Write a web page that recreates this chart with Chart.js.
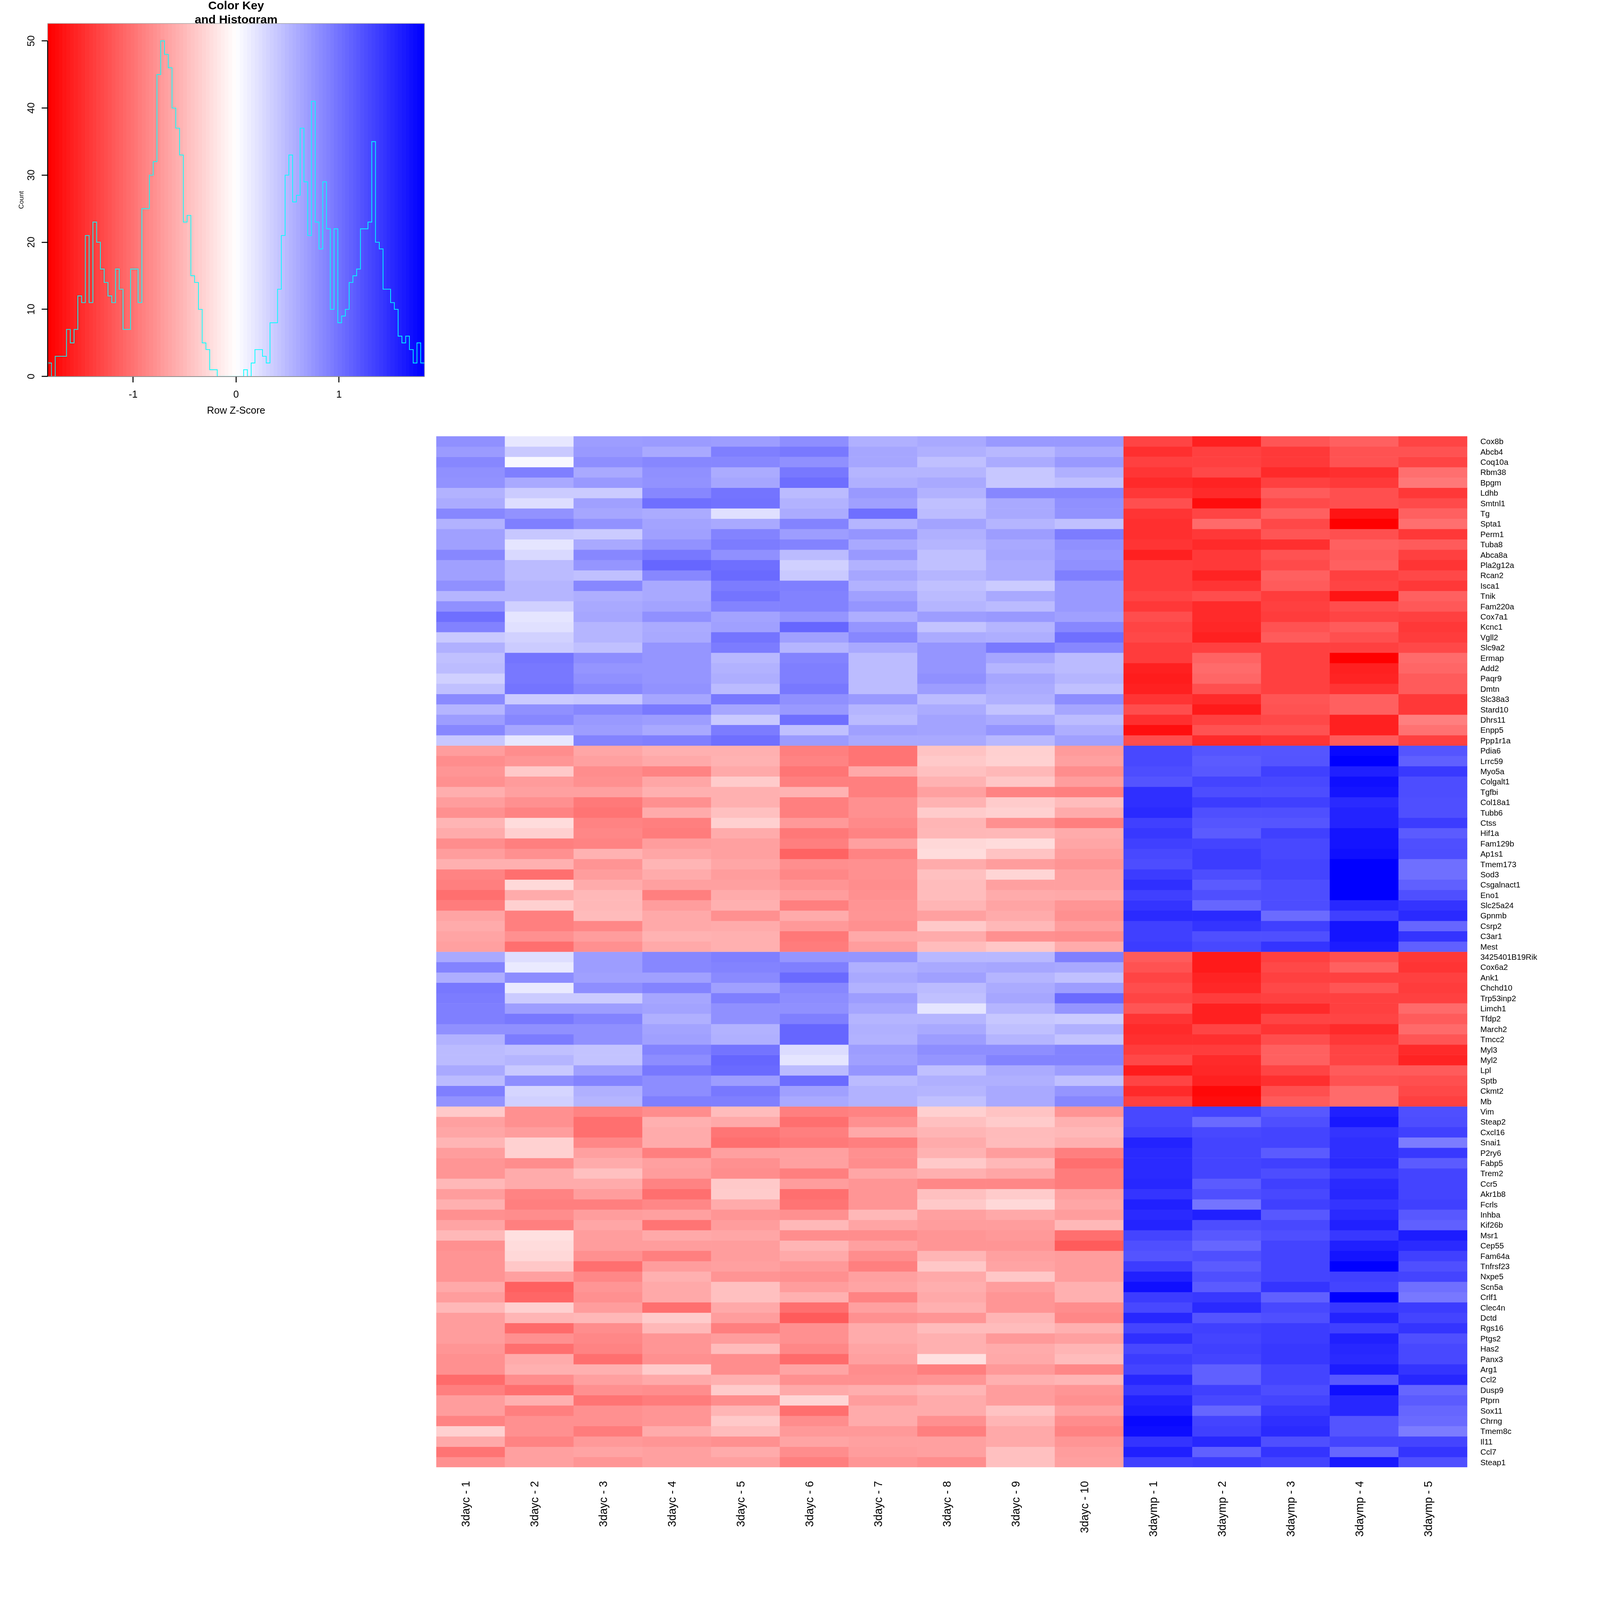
<!DOCTYPE html>
<html>
<head>
<meta charset="utf-8">
<title>Color Key and Heatmap</title>
<script src="https://cdn.jsdelivr.net/npm/chart.js@4"></script>
<style>
  html, body { margin: 0; padding: 0; background: #fff; }
  canvas { position: absolute; display: block; }
</style>
</head>
<body>
<canvas id="key-chart"></canvas>
<canvas id="heat-chart"></canvas>
<script>
const zMin = -1.83;
const zMax = 1.83;

const histCounts = [
  2, 0, 3, 3, 3, 7, 5, 7, 12, 11,
  21, 11, 23, 20, 16, 14, 12, 11, 16, 13,
  7, 7, 16, 16, 11, 25, 25, 30, 32, 45,
  50, 48, 46, 40, 37, 33, 23, 24, 15, 14,
  10, 5, 4, 1, 1, 0, 0, 0, 0, 0,
  0, 0, 1, 0, 2, 4, 4, 3, 2, 8,
  8, 13, 21, 30, 33, 26, 27, 37, 29, 21,
  41, 23, 19, 29, 22, 10, 22, 8, 9, 10,
  14, 15, 16, 22, 22, 23, 35, 20, 19, 13,
  13, 11, 10, 6, 5, 6, 4, 2, 5, 2
];
const countTicks = [0, 10, 20, 30, 40, 50];
const countTop = 52.6;
const zTicks = [-1, 0, 1];

const sampleNames = [
  '3dayc - 1', '3dayc - 2', '3dayc - 3', '3dayc - 4', '3dayc - 5',
  '3dayc - 6', '3dayc - 7', '3dayc - 8', '3dayc - 9', '3dayc - 10',
  '3daymp - 1', '3daymp - 2', '3daymp - 3', '3daymp - 4', '3daymp - 5'
];

const geneNames = [
  'Cox8b', 'Abcb4', 'Coq10a', 'Rbm38', 'Bpgm', 'Ldhb', 'Smtnl1', 'Tg', 'Spta1', 'Perm1',
  'Tuba8', 'Abca8a', 'Pla2g12a', 'Rcan2', 'Isca1', 'Tnik', 'Fam220a', 'Cox7a1', 'Kcnc1', 'Vgll2',
  'Slc9a2', 'Ermap', 'Add2', 'Paqr9', 'Dmtn', 'Slc38a3', 'Stard10', 'Dhrs11', 'Enpp5', 'Ppp1r1a',
  'Pdia6', 'Lrrc59', 'Myo5a', 'Colgalt1', 'Tgfbi', 'Col18a1', 'Tubb6', 'Ctss', 'Hif1a', 'Fam129b',
  'Ap1s1', 'Tmem173', 'Sod3', 'Csgalnact1', 'Eno1', 'Slc25a24', 'Gpnmb', 'Csrp2', 'C3ar1', 'Mest',
  '3425401B19Rik', 'Cox6a2', 'Ank1', 'Chchd10', 'Trp53inp2', 'Limch1', 'Tfdp2', 'March2', 'Tmcc2', 'Myl3',
  'Myl2', 'Lpl', 'Sptb', 'Ckmt2', 'Mb',
  'Vim', 'Steap2', 'Cxcl16', 'Snai1', 'P2ry6', 'Fabp5', 'Trem2', 'Ccr5', 'Akr1b8', 'Fcrls',
  'Inhba', 'Kif26b', 'Msr1', 'Cep55', 'Fam64a', 'Tnfrsf23', 'Nxpe5', 'Scn5a', 'Crlf1', 'Clec4n',
  'Dctd', 'Rgs16', 'Ptgs2', 'Has2', 'Panx3', 'Arg1', 'Ccl2', 'Dusp9', 'Ptprn', 'Sox11',
  'Chrng', 'Tmem8c', 'Il11', 'Ccl7', 'Steap1'
];

// row z-scores, top cluster down
const clusterOne = [
  [.80, .17, .70, .72, .70, .81, .57, .62, .73, .73, -1.34, -1.60, -1.22, -1.14, -1.34],
  [.72, .39, .73, .62, .92, .96, .64, .57, .51, .62, -1.49, -1.37, -1.42, -1.24, -1.24],
  [.86, .05, .81, .86, .86, .80, .64, .45, .60, .73, -1.37, -1.37, -1.42, -1.24, -1.34],
  [.80, .92, .62, .80, .60, .97, .53, .53, .40, .57, -1.45, -1.31, -1.53, -1.49, -1.03],
  [.78, .62, .73, .78, .64, 1.04, .57, .62, .40, .46, -1.53, -1.58, -1.37, -1.42, -.97],
  [.55, .37, .37, .86, 1.00, .49, .73, .55, .86, .86, -1.43, -1.53, -1.18, -1.26, -1.43],
  [.60, .24, .68, 1.03, 1.01, .55, .68, .45, .62, .80, -1.26, -1.74, -1.30, -1.26, -1.30],
  [.86, .78, .64, .60, .22, .60, 1.03, .48, .62, .78, -1.46, -1.34, -1.14, -1.69, -1.14],
  [.55, .92, .78, .66, .62, .89, .53, .66, .53, .45, -1.49, -1.07, -1.31, -1.83, -1.03],
  [.68, .40, .37, .68, .89, .70, .76, .57, .70, .94, -1.49, -1.43, -1.22, -1.26, -1.43],
  [.68, .19, .62, .78, .94, .89, .62, .53, .62, .80, -1.46, -1.53, -1.49, -1.14, -1.18],
  [.86, .27, .86, .97, .80, .49, .73, .45, .64, .76, -1.60, -1.42, -1.24, -1.18, -1.37],
  [.68, .49, .76, 1.10, 1.03, .34, .55, .45, .60, .80, -1.40, -1.42, -1.30, -1.14, -1.46],
  [.68, .49, .45, .86, 1.07, .39, .64, .53, .60, .92, -1.40, -1.58, -1.14, -1.37, -1.31],
  [.80, .53, .86, .62, .94, .92, .55, .45, .37, .73, -1.40, -1.46, -1.18, -1.34, -1.43],
  [.53, .53, .58, .62, 1.00, .90, .68, .49, .62, .73, -1.34, -1.28, -1.40, -1.69, -1.14],
  [.80, .34, .62, .66, .89, .90, .76, .53, .49, .73, -1.43, -1.53, -1.37, -1.28, -1.20],
  [1.03, .19, .64, .80, .66, .76, .58, .70, .73, .68, -1.28, -1.53, -1.40, -1.34, -1.37],
  [.90, .22, .53, .60, .68, 1.10, .76, .43, .53, .86, -1.34, -1.55, -1.24, -1.18, -1.43],
  [.39, .33, .53, .62, 1.00, .68, .86, .60, .58, 1.03, -1.31, -1.60, -1.18, -1.26, -1.40],
  [.57, .37, .45, .76, .94, .53, .62, .76, .96, .86, -1.40, -1.37, -1.37, -1.37, -1.31],
  [.45, 1.00, .82, .76, .51, .89, .48, .76, .64, .49, -1.40, -1.12, -1.37, -1.83, -1.06],
  [.48, .97, .76, .76, .55, .92, .48, .76, .53, .49, -1.60, -1.06, -1.37, -1.60, -1.10],
  [.34, .97, .80, .76, .58, .92, .48, .80, .64, .53, -1.63, -1.10, -1.37, -1.58, -1.18],
  [.45, 1.00, .86, .78, .49, .97, .48, .70, .60, .45, -1.60, -1.26, -1.37, -1.46, -1.18],
  [.84, .37, .40, .64, .97, .80, .73, .48, .57, .82, -1.46, -1.53, -1.22, -1.14, -1.43],
  [.53, .80, .86, .96, .64, .73, .53, .60, .43, .64, -1.28, -1.64, -1.24, -1.14, -1.43],
  [.70, .86, .73, .70, .39, 1.03, .49, .66, .60, .48, -1.49, -1.37, -1.31, -1.60, -.92],
  [.86, .64, .70, .62, .94, .45, .68, .66, .76, .58, -1.72, -1.24, -1.24, -1.60, -1.01],
  [.40, .17, .89, .92, 1.03, .72, .62, .62, .51, .68, -1.28, -1.53, -1.46, -1.18, -1.37]
];

const clusterTwo = [
  [-.70, -.82, -.64, -.57, -.57, -.92, -1.00, -.43, -.34, -.72, 1.31, 1.22, 1.22, 1.77, 1.22],
  [-.82, -.76, -.68, -.62, -.55, -.89, -1.00, -.39, -.33, -.68, 1.31, 1.18, 1.23, 1.83, 1.14],
  [-.76, -.39, -.82, -.89, -.62, -.99, -.62, -.45, -.51, -.82, 1.28, 1.20, 1.37, 1.60, 1.42],
  [-.80, -.72, -.80, -.64, -.37, -.92, -.92, -.55, -.40, -.70, 1.23, 1.34, 1.31, 1.72, 1.28],
  [-.58, -.68, -.68, -.57, -.57, -.55, -.92, -.68, -.89, -.92, 1.49, 1.28, 1.28, 1.69, 1.28],
  [-.70, -.80, -.96, -.80, -.57, -.92, -.80, -.55, -.37, -.48, 1.49, 1.40, 1.37, 1.53, 1.26],
  [-.80, -.89, -1.00, -.60, -.45, -.92, -.80, -.37, -.33, -.60, 1.53, 1.26, 1.26, 1.58, 1.26],
  [-.53, -.25, -.89, -.92, -.34, -.73, -.84, -.53, -.80, -.92, 1.37, 1.22, 1.22, 1.58, 1.40],
  [-.60, -.34, -.86, -.94, -.60, -.97, -.89, -.52, -.51, -.60, 1.43, 1.18, 1.37, 1.69, 1.18],
  [-.82, -.92, -.89, -.70, -.68, -.92, -.68, -.28, -.25, -.64, 1.37, 1.34, 1.31, 1.69, 1.26],
  [-.70, -.80, -.55, -.64, -.68, -1.12, -.89, -.25, -.43, -.70, 1.31, 1.40, 1.31, 1.72, 1.28],
  [-.57, -.57, -.77, -.53, -.64, -.81, -.80, -.60, -.70, -.77, 1.28, 1.40, 1.34, 1.83, 1.03],
  [-.89, -1.03, -.70, -.60, -.70, -.86, -.80, -.45, -.30, -.68, 1.40, 1.28, 1.34, 1.83, 1.03],
  [-.92, -.27, -.60, -.68, -.68, -.77, -.82, -.48, -.68, -.68, 1.49, 1.18, 1.28, 1.83, 1.14],
  [-1.03, -.60, -.51, -.92, -.60, -.70, -.80, -.48, -.60, -.62, 1.37, 1.26, 1.28, 1.83, 1.26],
  [-.94, -.34, -.51, -.70, -.57, -.92, -.77, -.53, -.65, -.76, 1.46, 1.10, 1.28, 1.54, 1.46],
  [-.65, -.92, -.49, -.62, -.80, -.60, -.76, -.68, -.60, -.80, 1.53, 1.53, 1.06, 1.37, 1.53],
  [-.60, -.92, -.86, -.62, -.60, -.73, -.80, -.39, -.51, -.70, 1.37, 1.46, 1.37, 1.69, 1.10],
  [-.65, -.80, -.70, -.55, -.57, -.97, -.62, -.60, -.80, -.82, 1.37, 1.26, 1.26, 1.69, 1.46],
  [-.68, -1.03, -.80, -.62, -.57, -.94, -.70, -.48, -.40, -.60, 1.40, 1.31, 1.46, 1.63, 1.14]
];

const clusterThree = [
  [.62, .24, .70, .86, .92, .76, .76, .51, .51, .92, -1.18, -1.64, -1.37, -1.26, -1.43],
  [.89, .15, .70, .86, .89, .92, .57, .62, .64, .62, -1.24, -1.64, -1.31, -1.14, -1.46],
  [.58, .82, .68, .68, .84, 1.07, .62, .68, .53, .45, -1.34, -1.58, -1.37, -1.37, -1.37],
  [.97, .15, .81, .89, .68, .86, .55, .49, .60, .70, -1.28, -1.55, -1.31, -1.22, -1.40],
  [.94, .37, .37, .64, .92, .82, .70, .45, .64, 1.07, -1.34, -1.40, -1.37, -1.37, -1.37],
  [.92, .70, .70, .66, .80, .80, .64, .19, .53, .76, -1.22, -1.60, -1.53, -1.37, -1.07],
  [.92, .97, .89, .57, .80, .92, .53, .53, .40, .37, -1.46, -1.60, -1.34, -1.34, -1.18],
  [.80, .80, .80, .66, .55, 1.10, .57, .62, .45, .57, -1.53, -1.34, -1.46, -1.53, -1.07],
  [.55, .94, .80, .68, .57, 1.10, .55, .70, .53, .43, -1.49, -1.49, -1.28, -1.43, -1.22],
  [.49, .45, .43, .89, 1.00, .25, .70, .81, .81, .89, -1.40, -1.40, -1.14, -1.34, -1.53],
  [.49, .53, .43, .82, 1.10, .19, .68, .76, .89, .89, -1.31, -1.53, -1.14, -1.34, -1.58],
  [.62, .39, .68, .97, 1.07, .49, .76, .45, .60, .70, -1.63, -1.55, -1.34, -1.18, -1.18],
  [.49, .81, .89, .82, .70, 1.06, .49, .57, .57, .45, -1.34, -1.60, -1.49, -1.24, -1.26],
  [.92, .30, .57, .82, .97, .68, .55, .53, .62, .76, -1.53, -1.77, -1.26, -1.06, -1.31],
  [.78, .34, .53, .92, .92, .62, .55, .45, .62, .86, -1.37, -1.74, -1.18, -1.06, -1.37]
];

const clusterFour = [
  [-.39, -.80, -.89, -.82, -.48, -.92, -.89, -.34, -.43, -.77, 1.31, 1.34, 1.20, 1.60, 1.26],
  [-.68, -.80, -1.03, -.57, -.62, -1.03, -.80, -.45, -.37, -.57, 1.31, 1.07, 1.26, 1.66, 1.28],
  [-.64, -.70, -1.03, -.60, -.99, -.92, -.62, -.53, -.49, -.51, 1.37, 1.31, 1.34, 1.46, 1.37],
  [-.53, -.33, -.86, -.60, -1.03, -.96, -.92, -.60, -.48, -.57, 1.58, 1.34, 1.34, 1.49, .94],
  [-.70, -.33, -.68, -.92, -.68, -.68, -.80, -.55, -.70, -.92, 1.53, 1.34, 1.18, 1.49, 1.43],
  [-.76, -.82, -.60, -.68, -.80, -.68, -.82, -.39, -.51, -1.03, 1.53, 1.34, 1.37, 1.53, 1.18],
  [-.76, -.60, -.45, -.70, -.82, -.92, -.64, -.57, -.64, -.94, 1.53, 1.34, 1.28, 1.43, 1.34],
  [-.51, -.60, -.60, -.89, -.39, -.70, -.76, -.86, -.86, -.94, 1.55, 1.18, 1.37, 1.53, 1.34],
  [-.70, -.89, -.70, -1.03, -.37, -1.03, -.76, -.45, -.37, -.68, 1.46, 1.26, 1.31, 1.55, 1.34],
  [-.57, -.92, -.92, -.86, -.60, -1.00, -.76, -.39, -.28, -.64, 1.60, 1.00, 1.37, 1.46, 1.37],
  [-.80, -.82, -.70, -.68, -.76, -.80, -.51, -.68, -.62, -.70, 1.53, 1.60, 1.20, 1.53, 1.20],
  [-.65, -.92, -.64, -1.00, -.70, -.51, -.65, -.70, -.70, -.51, 1.58, 1.28, 1.31, 1.60, 1.14],
  [-.51, -.22, -.70, -.62, -.64, -.82, -.82, -.76, -.73, -1.03, 1.34, 1.20, 1.26, 1.43, 1.63],
  [-.80, -.25, -.70, -.70, -.70, -.53, -.68, -.76, -.76, -1.18, 1.26, 1.10, 1.34, 1.60, 1.53],
  [-.77, -.28, -.80, -.92, -.70, -.62, -.82, -.53, -.68, -.70, 1.23, 1.26, 1.34, 1.69, 1.37],
  [-.77, -.40, -1.03, -.70, -.68, -.73, -.92, -.40, -.65, -.70, 1.40, 1.18, 1.34, 1.83, 1.26],
  [-.77, -.68, -.86, -.57, -.77, -.80, -.68, -.62, -.40, -.70, 1.60, 1.26, 1.34, 1.37, 1.34],
  [-.62, -1.14, -.76, -.62, -.45, -.70, -.65, -.58, -.70, -.57, 1.72, 1.18, 1.46, 1.34, 1.03],
  [-.70, -1.10, -.80, -.62, -.45, -.57, -.89, -.62, -.76, -.57, 1.40, 1.43, 1.14, 1.83, .97],
  [-.51, -.34, -.70, -1.03, -.62, -1.03, -.68, -.57, -.76, -.82, 1.31, 1.53, 1.31, 1.43, 1.40],
  [-.70, -.53, -.51, -.37, -.70, -1.18, -.80, -.76, -.53, -.86, 1.55, 1.23, 1.26, 1.58, 1.34],
  [-.70, -1.06, -.82, -.51, -.92, -.80, -.60, -.48, -.48, -.57, 1.34, 1.37, 1.40, 1.37, 1.46],
  [-.70, -.80, -.86, -.76, -.70, -.80, -.60, -.57, -.73, -.68, 1.49, 1.34, 1.40, 1.60, 1.26],
  [-.76, -1.03, -.89, -.76, -.49, -.86, -.65, -.57, -.60, -.53, 1.31, 1.37, 1.43, 1.55, 1.31],
  [-.80, -.60, -1.03, -.80, -.82, -1.06, -.68, -.22, -.62, -.48, 1.40, 1.34, 1.43, 1.53, 1.31],
  [-.80, -.57, -.57, -.37, -.82, -.65, -.82, -.92, -.73, -.86, 1.34, 1.14, 1.34, 1.63, 1.46],
  [-1.06, -.82, -.68, -.62, -.57, -.80, -.80, -.76, -.57, -.53, 1.55, 1.14, 1.34, 1.20, 1.55],
  [-.92, -1.03, -.80, -.82, -.37, -.62, -.58, -.53, -.70, -.76, 1.43, 1.37, 1.28, 1.72, 1.10],
  [-.70, -.57, -1.00, -.94, -.82, -.30, -.70, -.60, -.70, -.80, 1.58, 1.31, 1.34, 1.55, 1.18],
  [-.70, -.92, -.80, -.76, -.53, -1.03, -.60, -.60, -.43, -.68, 1.63, 1.10, 1.43, 1.55, 1.10],
  [-.89, -.80, -.80, -.76, -.39, -.82, -.60, -.80, -.53, -.82, 1.77, 1.34, 1.49, 1.23, 1.07],
  [-.34, -.80, -.94, -.60, -.48, -.73, -.73, -.92, -.62, -.89, 1.74, 1.37, 1.53, 1.23, .94],
  [-.62, -.89, -.73, -.76, -.80, -.65, -.68, -.68, -.62, -.76, 1.46, 1.55, 1.26, 1.34, 1.34],
  [-1.00, -.68, -.65, -.68, -.60, -.82, -.70, -.68, -.45, -.70, 1.60, 1.14, 1.46, 1.10, 1.46],
  [-.80, -.68, -.76, -.68, -.68, -.92, -.76, -.82, -.45, -.68, 1.37, 1.40, 1.34, 1.66, 1.26]
];

const zRows = [...clusterOne, ...clusterTwo, ...clusterThree, ...clusterFour];

// the window can be smaller than the 4800 design size, so every length goes through K
const K = Math.min(window.innerWidth, window.innerHeight) / 4800;
const px = v => v * K;

function placeCanvas(id, left, top, width, height) {
  const c = document.getElementById(id);
  c.width = Math.round(px(width));
  c.height = Math.round(px(height));
  c.style.left = px(left) + 'px';
  c.style.top = px(top) + 'px';
  return c;
}

// bluered palette: red at zMin, white at 0, blue at zMax
function zColor(v) {
  const s = Math.min(1, Math.abs(v) / zMax);
  const c = Math.round(255 * (1 - s));
  return v < 0 ? `rgb(255,${c},${c})` : `rgb(${c},${c},255)`;
}

const binWidth = (zMax - zMin) / histCounts.length;
const binCenters = histCounts.map((_, i) => zMin + binWidth * (i + 0.5));
const stepPoints = histCounts.map((c, i) => ({ x: zMin + binWidth * i, y: c }));
stepPoints.push({ x: zMax, y: histCounts[histCounts.length - 1] });

// grey frame round the key, and the black y axis line that stops at the last tick
const keyFrame = {
  id: 'keyFrame',
  afterDatasetsDraw(chart) {
    const { ctx, chartArea: a, scales } = chart;
    ctx.save();
    ctx.strokeStyle = '#999';
    ctx.lineWidth = px(1.5);
    ctx.strokeRect(a.left, a.top, a.right - a.left, a.bottom - a.top);
    ctx.strokeStyle = '#000';
    ctx.lineWidth = px(3);
    ctx.beginPath();
    ctx.moveTo(a.left, scales.y.getPixelForValue(countTicks[0]));
    ctx.lineTo(a.left, scales.y.getPixelForValue(countTicks[countTicks.length - 1]));
    ctx.stroke();
    ctx.restore();
  }
};

const fontFamily = '"Liberation Sans", Arial, sans-serif';

new Chart(placeCanvas('key-chart', 0, 0, 1320, 1290), {
  data: {
    datasets: [
      {
        type: 'line',
        data: stepPoints,
        stepped: 'before',
        borderColor: '#00ffff',
        borderWidth: px(2.2),
        pointRadius: 0,
        order: 1
      },
      {
        type: 'bar',
        data: binCenters.map(x => ({ x, y: countTop })),
        backgroundColor: binCenters.map(x => zColor(x * zMax / (zMax - binWidth / 2))),
        barPercentage: 1,
        categoryPercentage: 1,
        borderWidth: 0,
        order: 2
      }
    ]
  },
  options: {
    responsive: false,
    animation: false,
    devicePixelRatio: 1,
    layout: { padding: { right: px(46) } },
    plugins: {
      legend: { display: false },
      tooltip: { enabled: false },
      title: {
        display: true,
        fullSize: false,
        text: ['Color Key', 'and Histogram'],
        color: '#000',
        font: { family: fontFamily, size: px(35.5), weight: 'bold', lineHeight: 1.19 },
        padding: { top: px(-3), bottom: px(-11) }
      }
    },
    scales: {
      x: {
        type: 'linear',
        min: zMin,
        max: zMax,
        offset: false,
        afterBuildTicks: axis => { axis.ticks = zTicks.map(value => ({ value })); },
        afterFit: axis => { axis.height = px(161); },
        grid: { offset: false, drawOnChartArea: false, tickLength: px(18), tickWidth: px(3), tickColor: '#000' },
        border: { display: true, color: '#000', width: px(3) },
        ticks: {
          color: '#000',
          font: { family: fontFamily, size: px(30) },
          padding: px(20),
          maxRotation: 0,
          autoSkip: false
        },
        title: {
          display: true,
          text: 'Row Z-Score',
          color: '#000',
          font: { family: fontFamily, size: px(30) },
          padding: { top: px(8), bottom: px(40) }
        }
      },
      y: {
        type: 'linear',
        min: 0,
        max: countTop,
        afterBuildTicks: axis => { axis.ticks = countTicks.map(value => ({ value })); },
        afterFit: axis => { axis.width = px(143); },
        grid: { drawOnChartArea: false, tickLength: px(18), tickWidth: px(3), tickColor: '#000' },
        border: { display: false },
        ticks: {
          color: '#000',
          font: { family: fontFamily, size: px(30) },
          padding: px(14),
          minRotation: 90,
          maxRotation: 90,
          crossAlign: 'center',
          autoSkip: false
        },
        title: {
          display: true,
          text: 'Count',
          color: '#000',
          font: { family: fontFamily, size: px(20) },
          padding: { top: px(53), bottom: 0 }
        }
      }
    }
  },
  plugins: [keyFrame]
});

// one floating-bar dataset per gene row, each bar spans one row on the y scale
const heatDatasets = zRows.map((row, r) => ({
  data: row.map(() => [r, r + 1]),
  backgroundColor: row.map(zColor),
  borderWidth: 0,
  barPercentage: 1,
  categoryPercentage: 1,
  grouped: false
}));

new Chart(placeCanvas('heat-chart', 1300, 1300, 3500, 3500), {
  type: 'bar',
  data: { labels: sampleNames, datasets: heatDatasets },
  options: {
    responsive: false,
    animation: false,
    devicePixelRatio: 1,
    layout: { padding: { left: px(9), top: px(9) } },
    plugins: { legend: { display: false }, tooltip: { enabled: false } },
    scales: {
      x: {
        type: 'category',
        afterFit: axis => { axis.height = px(398); },
        grid: { display: false, drawTicks: false },
        border: { display: false },
        ticks: {
          color: '#000',
          font: { family: fontFamily, size: px(33.5) },
          padding: px(41),
          labelOffset: px(-12),
          minRotation: 90,
          maxRotation: 90,
          autoSkip: false
        }
      },
      y: {
        type: 'linear',
        position: 'right',
        reverse: true,
        min: 0,
        max: geneNames.length,
        afterBuildTicks: axis => { axis.ticks = geneNames.map((_, i) => ({ value: i + 0.5 })); },
        afterFit: axis => {
          axis.width = px(398);
          // tick padding must not push the plot down from the top
          axis.paddingTop = 0;
          axis.paddingBottom = 0;
        },
        grid: { display: false, drawTicks: false },
        border: { display: false },
        ticks: {
          color: '#000',
          font: { family: fontFamily, size: px(24) },
          padding: px(39),
          labelOffset: px(2),
          autoSkip: false,
          callback: (value, i) => geneNames[i]
        }
      }
    }
  }
});
</script>
</body>
</html>
